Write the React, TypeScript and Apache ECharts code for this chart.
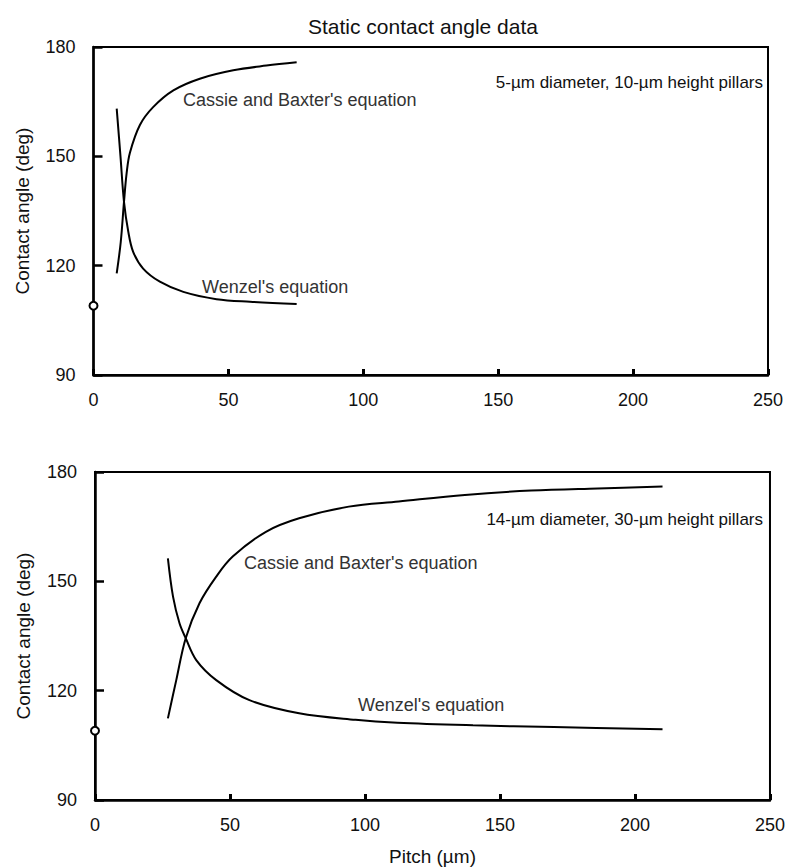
import React, { useEffect, useRef } from "react";
import * as echarts from "echarts";

// Top panel: 5-µm diameter, 10-µm height pillars
const topCassiePitch = [8.6, 10.1, 11.3, 12.3, 13.5, 17.2, 22.1, 29.6, 39.4, 51.8, 64.1, 75.3];
const topCassieAngle = [117.9, 126.5, 137.5, 145.5, 151.0, 158.6, 163.5, 168.1, 171.3, 173.6, 174.9, 175.8];
const topWenzelPitch = [8.6, 10.0, 11.3, 12.9, 14.7, 18.4, 24.6, 33.3, 45.6, 58.0, 75.3];
const topWenzelAngle = [163.1, 150.0, 137.5, 129.3, 123.8, 119.2, 115.6, 112.8, 110.8, 110.1, 109.5];

// Bottom panel: 14-µm diameter, 30-µm height pillars
const botCassiePitch = [27.0, 30.1, 33.6, 38.7, 44.9, 51.0, 63.3, 75.6, 94.0, 112.5, 137.0, 161.6, 186.2, 210.2];
const botCassieAngle = [112.4, 122.9, 134.4, 144.0, 151.3, 156.8, 163.6, 167.3, 170.5, 171.9, 173.7, 174.9, 175.5, 176.0];
const botWenzelPitch = [27.0, 28.9, 31.3, 33.6, 37.5, 44.9, 57.2, 75.6, 96.5, 112.0, 140.0, 170.0, 210.2];
const botWenzelAngle = [156.3, 145.8, 138.5, 134.4, 128.4, 122.9, 117.4, 113.8, 112.0, 111.2, 110.5, 110.0, 109.4];

// Flat-surface contact angle (pitch 0)
const flatPitch = [0];
const flatAngle = [109];

const xTicks = [0, 50, 100, 150, 200, 250];
const yTicks = [90, 120, 150, 180];

const FONT = "'Liberation Sans', Arial, Helvetica, sans-serif";

const zip = (xs: number[], ys: number[]) => xs.map((x, i) => [x, ys[i]]);

export default function App() {
  const ref = useRef<HTMLDivElement>(null);
  useEffect(() => {
    if (!ref.current) return;
    const chart = echarts.init(ref.current, null, { renderer: "svg" });

    const xAxisBase = (gridIndex: number, withName: boolean) => ({
      type: "value",
      gridIndex,
      min: xTicks[0],
      max: xTicks[xTicks.length - 1],
      interval: 50,
      name: withName ? "Pitch (µm)" : "",
      nameLocation: "middle",
      nameGap: 47,
      nameTextStyle: { fontFamily: FONT, fontSize: 19, color: "#111" },
      axisLine: { show: true, onZero: false, lineStyle: { color: "#000", width: 2.5 } },
      axisTick: { show: true, inside: true, length: 6, lineStyle: { color: "#000", width: 3 } },
      axisLabel: { fontFamily: FONT, fontSize: 18, color: "#111", margin: 16 },
      splitLine: { show: false },
    });
    const yAxisBase = (gridIndex: number) => ({
      type: "value",
      gridIndex,
      min: yTicks[0],
      max: yTicks[yTicks.length - 1],
      interval: 30,
      name: "Contact angle (deg)",
      nameLocation: "middle",
      nameGap: 62,
      nameTextStyle: { fontFamily: FONT, fontSize: 19, color: "#111" },
      axisLine: { show: true, onZero: false, lineStyle: { color: "#000", width: 2.5 } },
      axisTick: { show: true, inside: true, length: 9, lineStyle: { color: "#000", width: 2.5 } },
      axisLabel: { fontFamily: FONT, fontSize: 18, color: "#111", margin: 18 },
      splitLine: { show: false },
    });

    const lineSeries = (name: string, xi: number, xs: number[], ys: number[]) => ({
      name,
      type: "line",
      xAxisIndex: xi,
      yAxisIndex: xi,
      data: zip(xs, ys),
      showSymbol: false,
      symbol: "none",
      smooth: 0.35,
      lineStyle: { color: "#000", width: 2 },
    });
    const pointSeries = (xi: number) => ({
      name: "flat",
      type: "scatter",
      xAxisIndex: xi,
      yAxisIndex: xi,
      data: zip(flatPitch, flatAngle),
      symbol: "emptyCircle",
      symbolSize: 8,
      itemStyle: { color: "#000", borderColor: "#000", borderWidth: 2, opacity: 1 },
      z: 5,
    });

    const txt = (text: string, x: number, y: number, opts: any = {}) => ({
      type: "text",
      x,
      y,
      style: {
        text,
        fontFamily: FONT,
        fontSize: opts.fontSize ?? 18,
        fill: opts.fill ?? "#333",
        textAlign: opts.align ?? "left",
        textVerticalAlign: "middle",
      },
      z: 10,
    });

    chart.setOption({
      animation: false,
      backgroundColor: "#fff",
      grid: [
        { left: 93.5, top: 47, width: 674.5, height: 328, show: true, borderColor: "#000", borderWidth: 2, backgroundColor: "transparent" },
        { left: 95, top: 472, width: 678, height: 328, show: true, borderColor: "#000", borderWidth: 2, backgroundColor: "transparent" },
      ],
      xAxis: [xAxisBase(0, false), xAxisBase(1, true)],
      yAxis: [yAxisBase(0), yAxisBase(1)],
      series: [
        lineSeries("Cassie and Baxter's equation", 0, topCassiePitch, topCassieAngle),
        lineSeries("Wenzel's equation", 0, topWenzelPitch, topWenzelAngle),
        pointSeries(0),
        lineSeries("Cassie and Baxter's equation", 1, botCassiePitch, botCassieAngle),
        lineSeries("Wenzel's equation", 1, botWenzelPitch, botWenzelAngle),
        pointSeries(1),
      ],
      graphic: [
        txt("Static contact angle data", 423, 26, { fontSize: 21, fill: "#111", align: "center" }),
        txt("5-µm diameter, 10-µm height pillars", 763, 82, { fontSize: 17, fill: "#111", align: "right" }),
        txt("Cassie and Baxter's equation", 183, 100),
        txt("Wenzel's equation", 202, 287),
        txt("14-µm diameter, 30-µm height pillars", 763, 519, { fontSize: 17, fill: "#111", align: "right" }),
        txt("Cassie and Baxter's equation", 244, 563),
        txt("Wenzel's equation", 358, 705),
      ],
    });
    return () => chart.dispose();
  }, []);
  return (
    <div
      ref={ref}
      style={{ position: "absolute", left: 0, top: 0, width: 788, height: 867, background: "#fff" }}
    />
  );
}
